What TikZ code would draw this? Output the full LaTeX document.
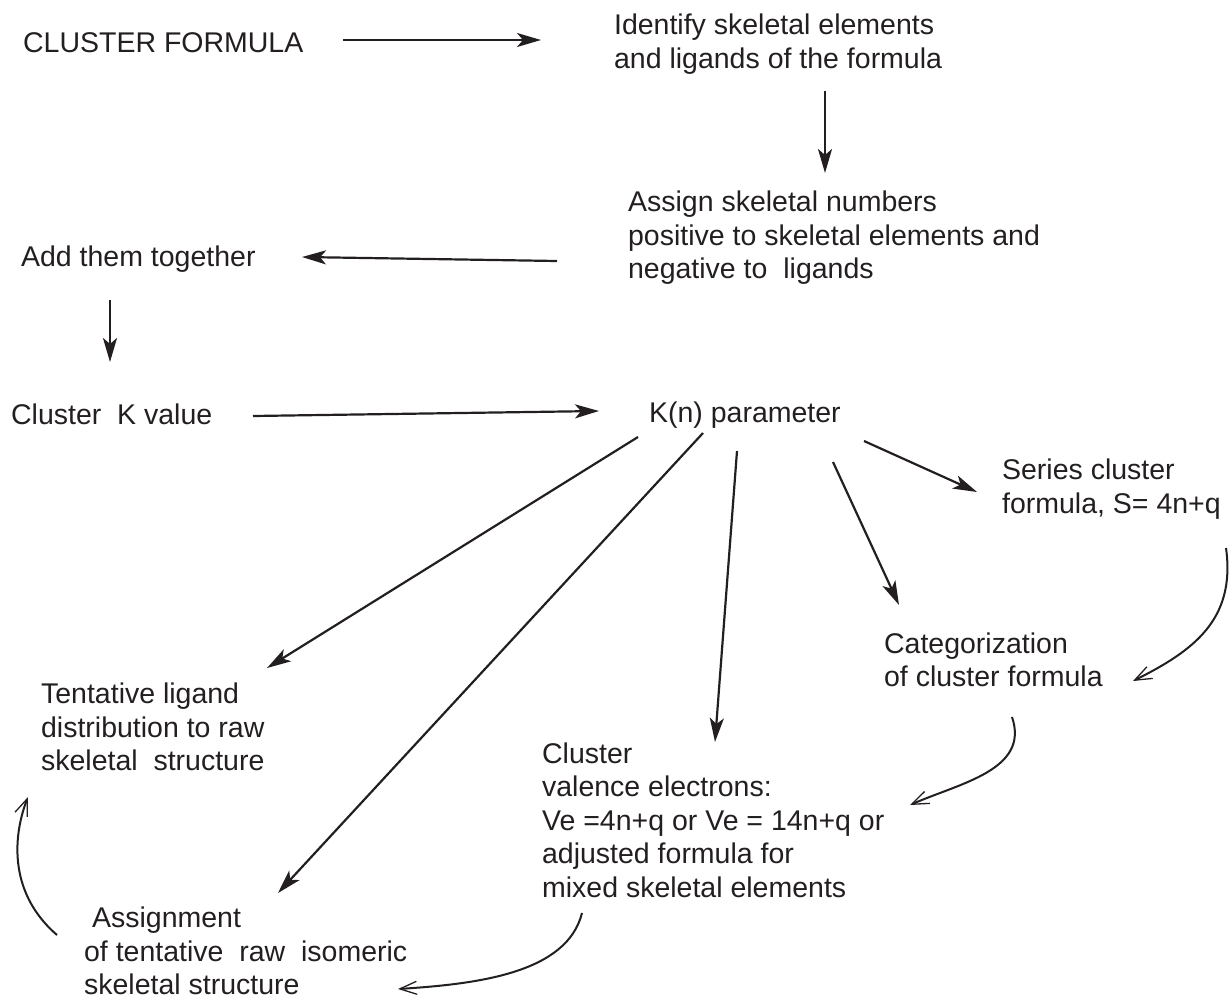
\documentclass[tikz,border=0pt]{standalone}
\usepackage{fontspec}
\setmainfont{Liberation Sans}
\usetikzlibrary{arrows.meta, calc, positioning}
\definecolor{ink}{RGB}{35,31,32}

\begin{document}
\begin{tikzpicture}[x=1pt,y=-1pt,font=\fontsize{28.5}{33.5}\selectfont,color=ink,
	line width=2.2pt,>={Stealth[length=24pt,width=14pt,inset=6pt]}]

	\tikzset{txt/.style={anchor=west, inner sep=0pt, align=left},
		arr/.style={->},
		carr/.style={-{Straight Barb[length=17pt,width=13pt,line width=1.3pt]}, line width=2pt}}

	\useasboundingbox (0,0) rectangle (1231,1001);

	% texts
	\node[txt] (cf) at (22,43) {CLUSTER FORMULA};
	\node[txt] (id) at (613,44) {Identify skeletal elements\\and ligands of the formula};
	\node[txt] (as) at (627,238) {Assign skeletal numbers\\positive to skeletal elements and\\negative to~~ligands};
	\node[txt] (add) at (20,259) {Add them together};
	\node[txt] (ck) at (10,414) {Cluster~~K value};
	\node[txt] (kn) at (648,415) {K(n) parameter};
	\node[txt] (series) at (1001,489) {Series cluster\\formula, S= 4n+q};
	\node[txt] (categ) at (883,660) {Categorization\\of cluster formula};
	\node[txt] (tent) at (40,727) {Tentative ligand\\distribution to raw\\skeletal~~structure};
	\node[txt] (cve) at (541,820) {Cluster\\valence electrons:\\Ve =4n+q or Ve = 14n+q or\\adjusted formula for\\mixed skeletal elements};
	\node[txt] (asg) at (83,951) {\hspace*{8pt}Assignment\\of tentative~~raw~~isomeric\\skeletal structure};

	% straight arrows
	\draw[arr] ($(cf.west)+(321,-3)$) -- ($(id.west)+(-72,-4)$);
	\draw[arr] ($(id.west)+(212,47)$) -- ($(as.west)+(198,-65)$);
	\draw[arr] ($(as.west)+(-70,23)$) -- ($(add.west)+(282,-2)$);
	\draw[arr] ($(add.west)+(90,41)$) -- ($(ck.west)+(100,-52)$);
	\draw[arr] ($(ck.west)+(243,2)$) -- ($(kn.west)+(-49,-4)$);
	\draw[arr] ($(kn.west)+(-10,22)$) -- ($(tent.west)+(227,-59)$);
	\draw[arr] ($(kn.west)+(55,18)$) -- ($(asg.west)+(195,-58)$);
	\draw[arr] ($(kn.west)+(89,36)$) -- ($(cve.west)+(174,-78)$);
	\draw[arr] ($(kn.west)+(185,47)$) -- ($(categ.west)+(16,-55)$);
	\draw[arr] ($(kn.west)+(216,26)$) -- ($(series.west)+(-24,3)$);

	% curved arrows
	\draw[carr] ($(series.west)+(225,59)$) .. controls +(10,72) and +(60,-30) .. ($(categ.west)+(250,21)$);
	\draw[carr] ($(categ.west)+(129,57)$) .. controls +(18,53) and +(50,-22) .. ($(cve.west)+(369,-15)$);
	\draw[carr] ($(cve.west)+(41,93)$) .. controls +(-15,60) and +(80,-5) .. ($(asg.west)+(315,38)$);
	\draw[carr] ($(asg.west)+(-26,-16)$) .. controls +(-52,-45) and +(-13,33) .. ($(tent.west)+(-12,70)$);

\end{tikzpicture}
\end{document}
